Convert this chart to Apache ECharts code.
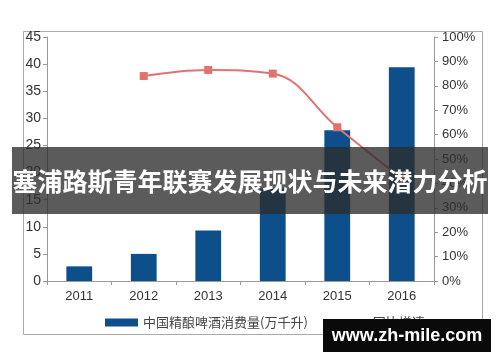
<!DOCTYPE html>
<html><head><meta charset="utf-8">
<script src="https://cdn.jsdelivr.net/npm/echarts@6/dist/echarts.min.js"></script>
<style>html,body{margin:0;padding:0;background:#fff}#c{width:500px;height:362px}</style>
</head><body><div id="c"></div>
<script>
const years = ['2011','2012','2013','2014','2015','2016'];
const consumption = [2.7, 5.0, 9.3, 17.0, 27.8, 39.4];
const growth = [null, 84, 86.5, 85, 63, 42];
const leftTicks = [0,5,10,15,20,25,30,35,40,45];
const rightTicks = [0,10,20,30,40,50,60,70,80,90,100];
const barName = '中国精酿啤酒消费量(万千升)';
const lineName = '同比增速';
const bannerText = '塞浦路斯青年联赛发展现状与未来潜力分析';
const siteText = 'www.zh-mile.com';

const chart = echarts.init(document.getElementById('c'), null, {renderer:'canvas'});
const font = 'Liberation Sans, Arial, sans-serif';
chart.setOption({
  animation:false,
  grid:{left:47,right:66,top:37,bottom:81,containLabel:false},
  legend:{left:100,top:311,itemGap:26,itemWidth:33,itemHeight:8,
    textStyle:{fontSize:13,color:'#444',fontFamily:'Noto Sans CJK SC'},
    data:[{name:barName,icon:'rect'},{name:lineName}]},
  xAxis:{type:'category',data:years,
    axisLine:{lineStyle:{color:'#999'}},
    axisTick:{show:true,alignWithLabel:false,length:4,lineStyle:{color:'#999'}},
    axisLabel:{fontSize:13,color:'#333',fontFamily:font,margin:9}},
  yAxis:[
    {type:'value',min:0,max:45,interval:5,
      axisLine:{show:true,lineStyle:{color:'#999'}},
      axisTick:{show:true,length:4,lineStyle:{color:'#999'}},
      splitLine:{show:false},
      axisLabel:{fontSize:14,color:'#333',fontFamily:font,margin:6,
        formatter:v=>leftTicks.includes(v)?String(v):''}},
    {type:'value',min:0,max:100,interval:10,
      axisLine:{show:true,lineStyle:{color:'#999'}},
      axisTick:{show:true,length:4,lineStyle:{color:'#999'}},
      splitLine:{show:false},
      axisLabel:{fontSize:13,color:'#333',fontFamily:font,margin:8,
        formatter:v=>rightTicks.includes(v)?v+'%':''}}
  ],
  series:[
    {name:barName,type:'bar',data:consumption,barWidth:'40%',
      itemStyle:{color:'#0d4f8b'}},
    {name:lineName,type:'line',yAxisIndex:1,data:growth,smooth:0.4,
      symbol:'rect',symbolSize:8,connectNulls:false,
      lineStyle:{color:'#e07272',width:2},itemStyle:{color:'#e07272'}}
  ],
  graphic:[
    {type:'rect',left:21,top:29,shape:{width:459,height:303},
      style:{fill:'none',stroke:'#aaa',lineWidth:1},z:0,silent:true},
    {type:'rect',shape:{x:12,y:147,width:476,height:67},
      style:{fill:'rgba(45,45,45,0.78)'},z:100},
    {type:'text',x:250,y:181,z:101,
      style:{text:bannerText,fill:'#fff',font:'bold 25px "Noto Sans CJK SC"',
        align:'center',verticalAlign:'middle'}},
    {type:'rect',shape:{x:323,y:319,width:168,height:33},
      style:{fill:'#0a0a0a'},z:100},
    {type:'text',x:407,y:336,z:101,
      style:{text:siteText,fill:'#fff',font:'bold 18px "Liberation Sans"',
        align:'center',verticalAlign:'middle'}}
  ]
});
</script></body></html>
